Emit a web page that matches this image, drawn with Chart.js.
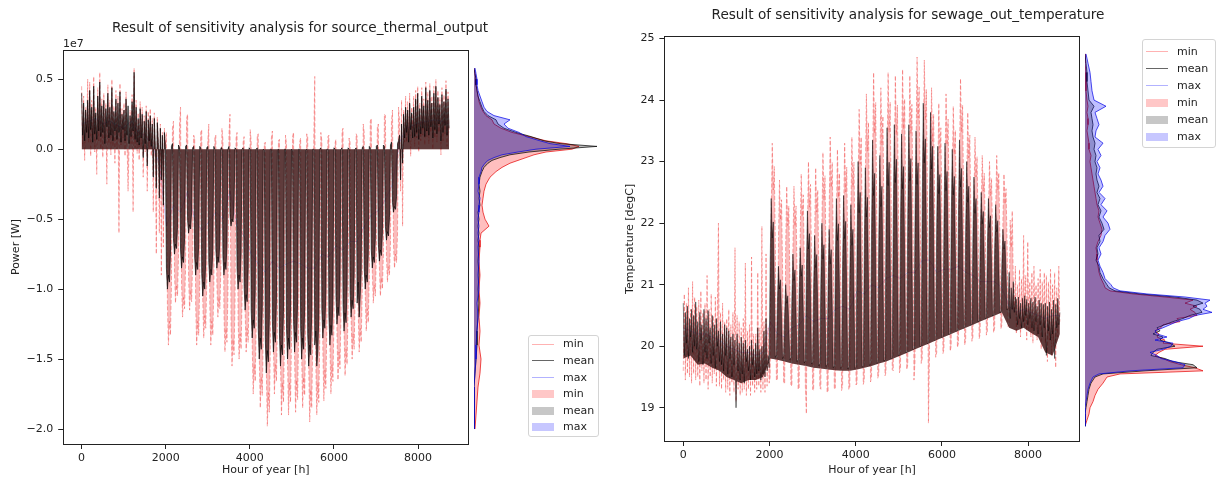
<!DOCTYPE html>
<html>
<head>
<meta charset="utf-8">
<script src="https://cdn.jsdelivr.net/npm/chart.js@4.4.1/dist/chart.umd.min.js"></script>
<style>
  body { margin: 0; background: #fff; }
  #fig { position: relative; width: 1219px; height: 477px; overflow: hidden; font-family: "DejaVu Sans", sans-serif; color: #222; }
  #fig canvas { position: absolute; top: 0; }
  .title { position: absolute; font-size: 13.6px; line-height: 1; white-space: nowrap; transform: translate(-50%, -50%); }
  .offset { position: absolute; font-size: 11px; line-height: 1; transform: translateY(-50%); }
  .legend { position: absolute; box-sizing: border-box; border: 1px solid #d4d4d4; border-radius: 3px; background: rgba(255,255,255,0.85); }
  .legend .handle { position: absolute; left: 3px; width: 22px; }
  .legend .label { position: absolute; left: 34px; font-size: 11px; line-height: 14px; }
</style>
</head>
<body>
<div id="fig">
  <canvas id="powerMain" width="470" height="477" style="left:0px"></canvas>
  <canvas id="powerHist" width="131" height="477" style="left:474px"></canvas>
  <canvas id="tempMain" width="481" height="477" style="left:600px"></canvas>
  <canvas id="tempHist" width="134" height="477" style="left:1085px"></canvas>
  <div class="title" style="left:300px;top:28px">Result of sensitivity analysis for source_thermal_output</div>
  <div class="title" style="left:908px;top:15px">Result of sensitivity analysis for sewage_out_temperature</div>
  <div class="offset" style="left:63px;top:43px">1e7</div>
  <div class="legend" id="powerLegend" style="left:528px;top:335px;width:71px;height:102px"></div>
  <div class="legend" id="tempLegend" style="left:1142px;top:39px;width:74px;height:109px"></div>
</div>
<script>
// sampling of the series
const hourStep = 24;   // one value per day
const weekStep = 168;  // one value per week

const hourTicks = [0, 2000, 4000, 6000, 8000];
const powerTicks = [-2.0, -1.5, -1.0, -0.5, 0.0, 0.5];
const tempTicks = [19, 20, 21, 22, 23, 24, 25];

// source_thermal_output, daily values in 1e7 W
const powerMean = [
  0.40, 0.10, 0.33, 0.06, 0.28, 0.12, 0.35,
  0.08, 0.42, 0.14, 0.30, 0.05, 0.45, 0.11,
  0.26, 0.07, 0.38, 0.13, 0.48, 0.09, 0.31,
  0.12, 0.35, 0.04, 0.29, 0.16, 0.40, 0.08,
  0.30, 0.10, 0.44, 0.06, 0.27, 0.13, 0.36,
  0.07, 0.33, 0.12, 0.41, 0.05, 0.25, 0.14,
  0.28, 0.06, 0.36, 0.10, 0.31, 0.04, 0.24,
  0.09, 0.34, 0.13, 0.55, 0.07, 0.30, 0.05,
  0.22, 0.03, 0.29, 0.08, 0.25, -0.06, 0.20,
  0.04, 0.27, -0.12, 0.21, 0.06, 0.24, 0.02,
  0.18, -0.20, 0.22, 0.03, -0.28, 0.19, 0.05,
  -0.35, 0.15, -0.22, 0.10, -0.40, 0.12, 0.02,
  -0.85, -1.00, -0.90, -0.95, -0.75, 0.02, 0.04,
  -0.64, -0.75, -0.68, -0.71, -0.56, 0.03, 0.01,
  -0.72, -0.85, -0.77, -0.81, -0.64, 0.02, 0.03,
  -0.51, -0.60, -0.54, -0.57, -0.45, 0.01, 0.02,
  -0.77, -0.90, -0.81, -0.86, -0.68, 0.02, 0.01,
  -0.89, -1.05, -0.95, -1.00, -0.79, 0.01, 0.02,
  -0.81, -0.95, -0.86, -0.90, -0.71, 0.02, 0.00,
  -0.72, -0.85, -0.77, -0.81, -0.64, 0.01, 0.01,
  -0.77, -0.90, -0.81, -0.86, -0.68, 0.00, 0.02,
  -0.47, -0.55, -0.50, -0.52, -0.41, 0.01, 0.00,
  -0.85, -1.00, -0.90, -0.95, -0.75, 0.00, 0.01,
  -0.98, -1.15, -1.04, -1.09, -0.86, 0.01, 0.00,
  -1.15, -1.35, -1.22, -1.28, -1.01, 0.00, 0.01,
  -1.28, -1.50, -1.35, -1.43, -1.13, 0.00, -0.01,
  -1.36, -1.60, -1.44, -1.52, -1.20, 0.00, 0.00,
  -1.23, -1.45, -1.31, -1.38, -1.09, -0.01, 0.00,
  -1.32, -1.55, -1.40, -1.47, -1.16, 0.00, 0.00,
  -1.28, -1.50, -1.35, -1.43, -1.13, 0.00, -0.01,
  -1.23, -1.45, -1.31, -1.38, -1.09, 0.00, 0.00,
  -1.28, -1.50, -1.35, -1.43, -1.13, -0.01, 0.00,
  -1.32, -1.55, -1.40, -1.47, -1.16, 0.00, 0.00,
  -1.40, -1.30, -1.55, -1.45, -1.20, 0.00, 0.01,
  -1.15, -1.35, -1.22, -1.28, -1.01, 0.00, 0.00,
  -1.19, -1.40, -1.26, -1.33, -1.05, 0.01, 0.00,
  -1.06, -1.25, -1.13, -1.19, -0.94, 0.00, 0.01,
  -1.11, -1.30, -1.17, -1.24, -0.98, 0.01, 0.00,
  -1.02, -1.20, -1.08, -1.14, -0.90, 0.00, 0.01,
  -1.10, -0.95, -1.20, -1.05, -0.88, 0.01, 0.02,
  -0.85, -1.00, -0.90, -0.95, -0.75, 0.02, 0.01,
  -0.72, -0.85, -0.77, -0.81, -0.64, 0.02, 0.03,
  -0.68, -0.80, -0.72, -0.76, -0.60, 0.03, 0.02,
  -0.55, -0.65, -0.59, -0.62, -0.49, 0.03, 0.05,
  -0.38, -0.45, -0.41, -0.43, -0.34, 0.04, 0.06,
  0.10, -0.22, 0.18, -0.10, 0.25, 0.08, 0.30,
  0.12, 0.28, 0.05, 0.33, 0.14, 0.26, 0.08,
  0.30, 0.09, 0.36, 0.12, 0.40, 0.07, 0.29,
  0.11, 0.38, 0.15, 0.31, 0.09, 0.44, 0.13,
  0.35, 0.10, 0.42, 0.16, 0.33, 0.08, 0.40,
  0.14, 0.45, 0.11, 0.37, 0.18, 0.32, 0.06,
  0.39, 0.12, 0.34, 0.17, 0.43, 0.10, 0.36,
  0.15
];

const powerMin = [
  0.45, 0.02, 0.38, -0.08, 0.30, 0.12, 0.50,
  0.05, 0.48, -0.05, 0.35, 0.10, 0.52, -0.02,
  0.30, -0.18, 0.44, 0.06, 0.55, 0.00, 0.36,
  -0.06, 0.40, 0.08, 0.33, -0.25, 0.46, 0.04,
  0.35, -0.04, 0.50, 0.02, 0.31, -0.10, 0.42,
  0.00, 0.38, -0.60, 0.47, 0.03, 0.29, 0.08,
  0.33, -0.05, 0.41, 0.06, -0.30, 0.02, 0.28,
  0.04, 0.39, -0.45, 0.58, 0.01, 0.35, -0.03,
  0.26, -0.08, 0.34, 0.02, 0.30, -0.20, 0.24,
  -0.02, 0.31, -0.30, 0.27, 0.00, 0.29, -0.05,
  0.22, -0.45, 0.26, -0.10, -0.75, 0.23, 0.02,
  -0.60, 0.18, -0.90, 0.12, -0.70, 0.15, 0.03,
  0.12, -1.12, -1.40, -1.23, -1.33, -0.98, 0.15,
  0.20, -0.88, -1.10, -0.97, -1.05, -0.77, 0.18,
  0.30, -0.96, -1.20, -1.06, -1.14, -0.84, 0.22,
  0.25, -0.92, -1.15, -1.01, -1.09, -0.81, 0.10,
  0.08, -1.12, -1.40, -1.23, -1.33, -0.98, 0.12,
  0.14, -1.08, -1.35, -1.19, -1.28, -0.95, 0.06,
  0.18, -1.12, -1.40, -1.23, -1.33, -0.98, 0.09,
  0.10, -0.96, -1.20, -1.06, -1.14, -0.84, 0.15,
  0.07, -1.16, -1.45, -1.28, -1.38, -1.02, 0.11,
  0.25, -1.24, -1.55, -1.36, -1.47, -1.09, 0.08,
  0.12, -1.20, -1.50, -1.32, -1.43, -1.05, 0.05,
  0.09, -1.16, -1.45, -1.28, -1.38, -1.02, 0.14,
  0.06, -1.40, -1.75, -1.54, -1.66, -1.23, 0.10,
  0.11, -1.48, -1.85, -1.63, -1.76, -1.30, 0.04,
  0.05, -1.58, -1.98, -1.74, -1.88, -1.39, 0.08,
  0.13, -1.40, -1.75, -1.54, -1.66, -1.23, 0.06,
  0.07, -1.52, -1.90, -1.67, -1.81, -1.33, 0.10,
  0.04, -1.52, -1.90, -1.67, -1.81, -1.33, 0.09,
  0.12, -1.50, -1.88, -1.65, -1.79, -1.32, 0.05,
  0.08, -1.48, -1.85, -1.63, -1.76, -1.30, 0.11,
  0.09, -1.56, -1.95, -1.72, -1.85, -1.37, 0.07,
  0.52, -1.52, -1.90, -1.67, -1.81, -1.33, 0.12,
  0.06, -1.44, -1.80, -1.58, -1.71, -1.26, 0.09,
  0.10, -1.40, -1.75, -1.54, -1.66, -1.23, 0.04,
  0.07, -1.32, -1.65, -1.45, -1.57, -1.16, 0.13,
  0.15, -1.30, -1.62, -1.43, -1.54, -1.13, 0.08,
  0.05, -1.20, -1.50, -1.32, -1.43, -1.05, 0.11,
  0.09, -1.16, -1.45, -1.28, -1.38, -1.02, 0.18,
  0.12, -1.04, -1.30, -1.14, -1.24, -0.91, 0.20,
  0.22, -0.88, -1.10, -0.97, -1.05, -0.77, 0.16,
  0.18, -0.84, -1.05, -0.92, -1.00, -0.74, 0.25,
  0.24, -0.76, -0.95, -0.84, -0.90, -0.67, 0.20,
  0.28, -0.68, -0.85, -0.75, -0.81, -0.60, 0.30,
  0.20, -0.30, 0.35, -0.55, 0.28, 0.05, 0.38,
  0.05, 0.34, 0.10, 0.40, -0.05, 0.30, 0.15,
  0.38, 0.02, 0.42, 0.08, 0.45, -0.02, 0.33,
  0.06, 0.44, 0.10, 0.36, 0.03, 0.48, 0.09,
  0.41, 0.04, 0.47, 0.12, 0.38, 0.00, 0.45,
  0.08, 0.50, 0.05, 0.42, 0.12, 0.37, -0.04,
  0.44, 0.06, 0.39, 0.11, 0.49, 0.02, 0.41,
  0.12
];

// weekly values, mostly hidden under the mean
const powerMaxWeekly = [
  0.18, 0.20, 0.22, 0.18, 0.20, 0.17, 0.15, 0.20, 0.12, 0.10, 0.02, -0.10,
  -0.55, -0.40, -0.45, -0.30, -0.50, -0.58, -0.52, -0.45, -0.50, -0.30,
  -0.55, -0.62, -0.75, -0.82, -0.88, -0.80, -0.85, -0.82, -0.80, -0.82,
  -0.85, -0.85, -0.75, -0.77, -0.69, -0.72, -0.66, -0.66, -0.55, -0.47,
  -0.44, -0.36, -0.25,
  0.05, 0.15, 0.17, 0.19, 0.20, 0.21, 0.20, 0.18
];

// sewage_out_temperature, daily values in degC
const tempMean = [
  20.70, 19.85, 20.55, 20.05, 20.65, 19.80, 20.45,
  20.15, 20.60, 19.90, 20.50, 20.00, 20.72, 19.95,
  20.40, 19.75, 20.55, 20.10, 20.35, 19.70, 20.60,
  19.90, 20.45, 19.80, 20.58, 20.05, 20.30, 19.72,
  20.50, 19.85, 20.35, 19.65, 20.45, 20.00, 20.25,
  19.75, 20.40, 19.70, 20.20, 19.60, 20.35, 19.85,
  20.30, 19.55, 20.25, 19.80, 20.15, 19.50, 20.20,
  19.70, 20.10, 19.00, 20.20, 19.60, 20.05, 19.45,
  20.15, 19.55, 20.05, 19.40, 20.10, 19.75, 19.95,
  19.60, 20.00, 19.45, 20.10, 19.70, 19.95, 19.50,
  20.05, 19.55, 20.30, 19.60, 19.95, 19.45, 20.00,
  19.55, 20.25, 19.50, 20.45, 19.60, 19.85, 19.65,
  21.38, 22.40, 21.76, 22.02, 21.00, 19.82, 19.86,
  20.71, 21.30, 20.93, 21.08, 20.49, 19.80, 19.84,
  20.52, 21.00, 20.70, 20.82, 20.34, 19.78, 19.81,
  20.81, 21.50, 21.07, 21.24, 20.55, 19.75, 19.78,
  20.86, 21.60, 21.14, 21.32, 20.58, 19.73, 19.76,
  21.21, 22.20, 21.58, 21.83, 20.84, 19.71, 19.74,
  20.96, 21.80, 21.28, 21.49, 20.65, 19.68, 19.72,
  21.08, 22.00, 21.42, 21.65, 20.73, 19.67, 19.70,
  21.01, 21.90, 21.34, 21.57, 20.67, 19.65, 19.68,
  21.30, 22.40, 21.72, 21.99, 20.89, 19.64, 19.67,
  21.33, 22.45, 21.75, 22.03, 20.91, 19.63, 19.66,
  21.24, 22.30, 21.64, 21.90, 20.84, 19.64, 19.66,
  21.67, 23.00, 22.17, 22.50, 21.17, 19.66, 19.68,
  21.62, 22.90, 22.10, 22.42, 21.14, 19.69, 19.71,
  21.90, 23.35, 22.45, 22.81, 21.36, 19.72, 19.74,
  21.77, 23.10, 22.27, 22.60, 21.27, 19.76, 19.78,
  22.05, 23.55, 22.61, 22.99, 21.49, 19.79, 19.81,
  22.10, 23.60, 22.66, 23.04, 21.54, 19.84, 19.86,
  22.03, 23.45, 22.56, 22.92, 21.50, 19.89, 19.91,
  22.14, 23.60, 22.69, 23.05, 21.59, 19.94, 19.96,
  22.10, 23.50, 22.63, 22.98, 21.58, 19.99, 20.01,
  22.39, 23.95, 22.98, 23.37, 21.81, 20.04, 20.06,
  22.32, 23.80, 22.88, 23.25, 21.77, 20.09, 20.11,
  22.01, 23.25, 22.48, 22.79, 21.55, 20.14, 20.16,
  22.06, 23.30, 22.53, 22.84, 21.60, 20.19, 20.21,
  22.02, 23.20, 22.46, 22.76, 21.58, 20.24, 20.26,
  22.13, 23.35, 22.59, 22.89, 21.67, 20.29, 20.31,
  21.94, 23.00, 22.34, 22.60, 21.54, 20.34, 20.36,
  21.81, 22.75, 22.16, 22.40, 21.46, 20.39, 20.42,
  21.68, 22.50, 21.99, 22.19, 21.37, 20.44, 20.47,
  21.64, 22.40, 21.93, 22.12, 21.36, 20.49, 20.52,
  21.60, 22.30, 21.86, 22.04, 21.34, 20.54, 20.57,
  21.38, 21.90, 21.58, 21.71, 21.19, 20.59, 20.62,
  21.20, 20.45, 20.95, 20.60, 21.05, 20.55, 20.80,
  20.75, 20.35, 20.80, 20.45, 20.70, 20.30, 20.78,
  20.40, 20.82, 20.50, 20.76, 20.35, 20.70, 20.45,
  20.78, 20.30, 20.72, 20.25, 20.80, 20.40, 20.65,
  20.20, 20.75, 20.35, 20.70, 20.15, 20.68, 20.30,
  20.70, 19.85, 20.65, 20.25, 20.72, 20.10, 20.60,
  20.20, 20.75, 19.80, 20.68, 20.30, 20.78, 20.35,
  20.55
];

const tempMin = [
  19.60, 20.85, 19.45, 20.70, 19.55, 20.95, 19.50,
  20.60, 19.40, 21.05, 19.55, 20.80, 19.45, 20.65,
  19.50, 20.75, 19.35, 20.90, 19.60, 20.55, 19.40,
  20.70, 19.45, 21.15, 19.30, 20.60, 19.50, 20.85,
  19.40, 20.50, 19.55, 20.80, 19.35, 20.65, 22.00,
  19.35, 20.55, 19.30, 20.70, 19.45, 20.40, 19.25,
  20.45, 19.30, 20.60, 19.20, 20.35, 19.40, 20.55,
  19.25, 21.60, 19.10, 20.50, 19.30, 20.40, 19.20,
  20.30, 19.25, 20.45, 19.30, 21.35, 19.20, 20.25,
  19.30, 20.35, 19.20, 21.45, 19.35, 20.20, 19.25,
  20.20, 19.30, 21.20, 19.35, 20.30, 19.25, 21.95,
  19.30, 20.40, 19.25, 21.50, 19.35, 20.30, 19.40,
  19.50, 22.16, 23.30, 22.54, 22.92, 21.59, 19.45,
  19.45, 21.73, 22.70, 22.05, 22.38, 21.24, 19.40,
  19.40, 21.64, 22.60, 21.96, 22.28, 21.16, 19.38,
  19.35, 21.63, 22.60, 21.95, 22.28, 21.14, 19.30,
  19.32, 21.77, 22.80, 22.11, 22.46, 21.25, 19.35,
  18.90, 21.89, 23.00, 22.26, 22.63, 21.34, 19.30,
  19.28, 21.82, 22.90, 22.18, 22.54, 21.28, 19.32,
  19.30, 22.00, 23.15, 22.38, 22.77, 21.42, 19.25,
  19.27, 22.17, 23.40, 22.58, 22.99, 21.56, 19.30,
  19.32, 22.04, 23.20, 22.42, 22.81, 21.45, 19.28,
  19.35, 22.12, 23.30, 22.51, 22.91, 21.52, 19.30,
  19.33, 22.19, 23.40, 22.59, 22.99, 21.58, 19.37,
  19.40, 22.52, 23.85, 22.96, 23.40, 21.85, 19.38,
  19.45, 22.71, 24.10, 23.17, 23.64, 22.01, 19.42,
  19.50, 22.97, 24.45, 23.46, 23.96, 22.22, 19.48,
  19.55, 22.81, 24.20, 23.27, 23.74, 22.11, 19.52,
  19.58, 23.00, 24.45, 23.48, 23.97, 22.27, 19.62,
  19.60, 22.96, 24.40, 23.44, 23.92, 22.24, 19.57,
  19.65, 23.05, 24.50, 23.53, 24.02, 22.32, 19.62,
  19.70, 22.99, 24.40, 23.46, 23.93, 22.29, 19.45,
  19.75, 23.22, 24.70, 23.71, 24.21, 22.47, 19.72,
  19.80, 23.20, 24.65, 23.68, 24.17, 22.47, 18.75,
  19.85, 22.90, 24.20, 23.33, 23.77, 22.24, 19.82,
  19.90, 22.74, 23.95, 23.14, 23.55, 22.13, 19.88,
  19.95, 22.86, 24.10, 23.27, 23.69, 22.23, 19.92,
  20.00, 22.73, 23.90, 23.12, 23.51, 22.15, 19.98,
  20.05, 23.06, 24.35, 23.49, 23.92, 22.42, 20.02,
  20.10, 22.69, 23.80, 23.06, 23.43, 22.14, 20.08,
  20.15, 22.43, 23.40, 22.75, 23.08, 21.94, 20.12,
  20.20, 22.23, 23.10, 22.52, 22.81, 21.80, 20.18,
  20.25, 22.18, 23.00, 22.45, 22.73, 21.76, 20.22,
  20.30, 22.26, 23.10, 22.54, 22.82, 21.84, 20.28,
  20.35, 22.07, 22.80, 22.31, 22.56, 21.70, 20.32,
  20.40, 22.05, 21.60, 22.20, 21.10, 20.60, 21.30,
  20.20, 21.00, 20.35, 21.25, 20.15, 21.10, 20.40,
  21.80, 20.30, 21.15, 20.10, 21.70, 20.25, 21.05,
  20.15, 21.20, 20.05, 21.30, 20.35, 21.00, 20.10,
  21.10, 20.20, 21.25, 19.95, 21.05, 20.30, 21.20,
  20.05, 21.15, 19.75, 21.05, 20.10, 21.25, 19.85,
  21.00, 20.00, 21.20, 19.65, 20.95, 20.15, 21.30,
  20.40
];

const tempMaxWeekly = [
  20.30, 20.25, 20.20, 20.20, 20.15, 20.10, 20.00, 19.95, 19.90, 19.90, 19.85, 19.90,
  20.40, 20.20, 20.15, 20.30, 20.35, 20.50, 20.40, 20.45, 20.45, 20.60,
  20.65, 20.60, 20.90, 20.85, 21.00, 20.95, 21.10, 21.15, 21.10, 21.20,
  21.20, 21.40, 21.40, 21.20, 21.25, 21.25, 21.30, 21.20, 21.15, 21.05,
  21.05, 21.05, 20.95,
  20.65, 20.55, 20.60, 20.55, 20.50, 20.45, 20.50, 20.50
];

// weekly lower edge of the mean band (the dark base line)
const tempMeanFloorWeekly = [
  19.80, 19.85, 19.70, 19.72, 19.65, 19.60, 19.50, 19.45, 19.40, 19.45, 19.45, 19.50,
  19.80, 19.78, 19.75, 19.72, 19.70, 19.68, 19.65, 19.64, 19.62, 19.61,
  19.60, 19.60, 19.62, 19.65, 19.68, 19.72, 19.75, 19.80, 19.85, 19.90,
  19.95, 20.00, 20.05, 20.10, 20.15, 20.20, 20.25, 20.30, 20.35, 20.40,
  20.45, 20.50, 20.55,
  20.30, 20.25, 20.30, 20.22, 20.15, 19.90, 19.85, 20.20
];

// side histograms: bin centres and heights (hours per bin, relative)
const powerBins = [0.58, 0.54, 0.50, 0.46, 0.42, 0.38, 0.34, 0.30, 0.27, 0.24, 0.21, 0.18, 0.15, 0.12, 0.09, 0.06,
  0.04, 0.02, 0.00, -0.02, -0.04, -0.06, -0.08, -0.10, -0.13, -0.16, -0.20, -0.25, -0.30, -0.35, -0.40, -0.45,
  -0.50, -0.55, -0.60, -0.65, -0.70, -0.80, -0.90, -1.00, -1.10, -1.20, -1.30, -1.40, -1.50, -1.60, -1.70,
  -1.80, -1.90, -2.00];
const powerHistMin = [0, 1, 2, 2, 3, 4, 5, 7, 9, 12, 18, 20, 27, 38, 55, 72, 92, 105, 98, 72, 60, 52, 44, 36,
  28, 22, 16, 12, 10, 9, 8, 9, 11, 15, 7, 6, 6, 5, 6, 5, 6, 5, 6, 5, 7, 6, 4, 3, 2, 1];
const powerHistMean = [0, 1, 2, 2, 3, 4, 6, 8, 10, 14, 22, 24, 30, 42, 57, 70, 86, 123, 85, 55, 36, 26, 18, 14,
  10, 8, 6, 5, 6, 5, 6, 4, 5, 4, 5, 4, 5, 4, 5, 4, 5, 4, 3, 3, 2, 1, 0, 0, 0, 0];
const powerHistMax = [1, 2, 3, 3, 4, 6, 8, 10, 13, 20, 36, 30, 34, 45, 52, 66, 76, 96, 62, 44, 28, 20, 14, 11,
  8, 7, 5, 5, 4, 6, 5, 5, 4, 5, 4, 5, 4, 5, 4, 5, 3, 4, 3, 2, 2, 1, 0, 0, 0, 0];

const tempBins = [24.75, 24.6, 24.45, 24.3, 24.15, 24.0, 23.9, 23.8, 23.7, 23.6, 23.5, 23.4, 23.3, 23.2, 23.1,
  23.0, 22.9, 22.8, 22.7, 22.6, 22.5, 22.4, 22.3, 22.2, 22.1, 22.0, 21.9, 21.8, 21.7, 21.6, 21.5, 21.4, 21.3,
  21.2, 21.1, 21.0, 20.95, 20.9, 20.85, 20.8, 20.75, 20.7, 20.65, 20.6, 20.55, 20.5, 20.45, 20.4, 20.35, 20.3,
  20.25, 20.2, 20.15, 20.1, 20.05, 20.0, 19.95, 19.9, 19.85, 19.8, 19.75, 19.7, 19.65, 19.6, 19.55, 19.5, 19.4,
  19.3, 19.2, 19.1, 19.0, 18.9, 18.8, 18.7];
const tempHistMin = [0, 0, 1, 1, 1, 2,
  3, 2, 3, 3, 2, 3, 4, 4, 6, 5,
  6, 7, 8, 9, 10, 11, 12, 14, 13, 15,
  17, 16, 13, 11, 12, 12, 13, 14, 16, 19,
  20, 25, 48, 80, 108, 100, 112, 105, 110, 112,
  92, 95, 78, 76, 70, 74, 72, 80, 78, 118,
  80, 74, 70, 78, 85, 96, 110, 118, 35, 22,
  18, 13, 10, 8, 5, 4, 2, 0];
const tempHistMean = [0, 1, 2, 2, 3, 4,
  9, 6, 7, 8, 7, 8, 10, 9, 11, 10,
  12, 11, 12, 14, 12, 15, 13, 16, 14, 17,
  19, 14, 15, 12, 13, 11, 14, 15, 18, 22,
  24, 30, 55, 90, 112, 118, 108, 115, 117, 105,
  98, 88, 80, 72, 75, 68, 78, 75, 85, 90,
  72, 68, 66, 80, 88, 108, 112, 60, 18, 10,
  6, 4, 3, 2, 1, 0, 0, 0];
const tempHistMax = [1, 3, 5, 6, 7, 9,
  21, 10, 12, 14, 11, 10, 18, 13, 16, 12,
  15, 13, 16, 18, 14, 20, 16, 22, 18, 23,
  25, 20, 18, 14, 16, 13, 15, 18, 20, 26,
  28, 35, 62, 100, 125, 120, 122, 118, 127, 110,
  104, 92, 85, 78, 70, 72, 82, 70, 88, 86,
  78, 65, 72, 76, 90, 100, 98, 45, 14, 8,
  5, 3, 2, 1, 0, 0, 0, 0];

// ---------- styling ----------
const ink = '#222';
const labelFont = { family: 'DejaVu Sans', size: 11 };
const hourRange = [-438, 9197];
const powerRange = [-2.107, 0.709];
const tempRange = [18.46, 25.03];

const colMin = { line: 'rgba(240,60,60,0.42)', fill: 'rgba(240,60,60,0.34)' };
const colMean = { line: 'rgba(0,0,0,0.8)', fill: 'rgba(30,5,5,0.7)' };
const colMax = { line: 'rgba(40,40,255,0.3)' };

const daily = vals => vals.map((v, i) => ({ x: i * hourStep, y: v }));
const weekly = vals => vals.map((v, i) => ({ x: i * weekStep, y: v }));

const frame = {
  id: 'frame',
  afterDatasetsDraw(chart) {
    const { ctx, chartArea: a } = chart;
    const x0 = Math.floor(a.left) + 0.5, x1 = Math.floor(a.right) + 0.5;
    const y0 = Math.floor(a.top) + 0.5, y1 = Math.floor(a.bottom) + 0.5;
    ctx.save();
    ctx.strokeStyle = ink;
    ctx.lineWidth = 1;
    ctx.strokeRect(x0, y0, x1 - x0, y1 - y0);
    ctx.restore();
  }
};

function timeAxis(height) {
  return {
    type: 'linear', min: hourRange[0], max: hourRange[1],
    afterBuildTicks: s => { s.ticks = hourTicks.map(v => ({ value: v })); },
    afterFit: s => { s.height = height; },
    ticks: { color: ink, font: labelFont, padding: 3, autoSkip: false, maxRotation: 0, callback: v => String(v) },
    grid: { drawOnChartArea: false, tickLength: 5, color: ink },
    border: { display: false },
    title: { display: true, text: 'Hour of year [h]', color: ink, font: labelFont, padding: 0 }
  };
}

function valueAxis(range, ticks, fmt, width, text, titlePad) {
  return {
    type: 'linear', min: range[0], max: range[1],
    afterBuildTicks: s => { s.ticks = ticks.map(v => ({ value: v })); },
    afterFit: s => { s.width = width; },
    ticks: { color: ink, font: labelFont, padding: 5, autoSkip: false, callback: fmt },
    grid: { drawOnChartArea: false, tickLength: 5, color: ink },
    border: { display: false },
    title: { display: true, text, color: ink, font: labelFont, padding: { top: titlePad, bottom: 0 } }
  };
}

function baseOptions(padding, scales) {
  return {
    responsive: false, animation: false, devicePixelRatio: 1, events: [],
    layout: { padding },
    plugins: { legend: { display: false }, tooltip: { enabled: false } },
    elements: { point: { radius: 0 }, line: { tension: 0 } },
    scales
  };
}

// ---------- left: source_thermal_output ----------
new Chart(document.getElementById('powerMain'), {
  type: 'line',
  data: {
    datasets: [
      { label: 'mean', data: daily(powerMean), borderColor: colMean.line, borderWidth: 0.8,
        backgroundColor: colMean.fill, fill: 'origin' },
      { label: 'min', data: daily(powerMin), borderColor: colMin.line, borderWidth: 1, borderDash: [4, 2],
        backgroundColor: colMin.fill, fill: 'origin' },
      { label: 'max', data: weekly(powerMaxWeekly), borderColor: colMax.line, borderWidth: 0.8, fill: false }
    ]
  },
  options: baseOptions({ top: 50, right: 1.6, bottom: 0, left: 0 }, {
    x: timeAxis(33),
    y: valueAxis(powerRange, powerTicks, v => v.toFixed(1).replace('-', '\u2212'), 63.2, 'Power [W]', 9.5)
  }),
  plugins: [frame]
});

// ---------- right: sewage_out_temperature ----------
new Chart(document.getElementById('tempMain'), {
  type: 'line',
  data: {
    datasets: [
      { label: 'mean', data: daily(tempMean), borderColor: colMean.line, borderWidth: 0.6,
        backgroundColor: colMean.fill, fill: 3 },
      { label: 'min', data: daily(tempMin), borderColor: colMin.line, borderWidth: 1, borderDash: [4, 2],
        backgroundColor: colMin.fill, fill: 3 },
      { label: 'max', data: weekly(tempMaxWeekly), borderColor: colMax.line, borderWidth: 0.8, fill: false },
      { label: 'mean floor', data: weekly(tempMeanFloorWeekly), borderWidth: 0, borderColor: 'rgba(0,0,0,0)', fill: false }
    ]
  },
  options: baseOptions({ top: 36.7, right: 1.3, bottom: 0, left: 0 }, {
    x: timeAxis(36),
    y: valueAxis(tempRange, tempTicks, v => String(v), 64.4, 'Temperature [degC]', 23.4)
  }),
  plugins: [frame]
});

// ---------- side histograms ----------
// first dataset is drawn on top, so blue (max) goes first and red (min) last
function histChart(id, bins, minCounts, meanCounts, maxCounts, range, countMax, padding) {
  const series = [
    { counts: maxCounts, line: 'rgba(0,0,230,0.7)', fill: 'rgba(0,0,255,0.25)' },
    { counts: meanCounts, line: 'rgba(0,0,0,0.7)', fill: 'rgba(0,0,0,0.25)' },
    { counts: minCounts, line: 'rgba(230,0,0,0.7)', fill: 'rgba(255,0,0,0.25)' }
  ];
  new Chart(document.getElementById(id), {
    type: 'line',
    data: {
      datasets: series.map(s => ({
        data: s.counts.map((c, i) => ({ x: c, y: bins[i] })),
        borderColor: s.line, backgroundColor: s.fill,
        borderWidth: 1, fill: 'origin'
      }))
    },
    options: Object.assign(baseOptions(padding, {
      x: { type: 'linear', min: 0, max: countMax, display: false },
      y: { type: 'linear', min: range[0], max: range[1], display: false }
    }), { indexAxis: 'y' })
  });
}

histChart('powerHist', powerBins, powerHistMin, powerHistMean, powerHistMax, powerRange, 131,
  { top: 50, bottom: 33, left: 0, right: 0 });
histChart('tempHist', tempBins, tempHistMin, tempHistMean, tempHistMax, tempRange, 134,
  { top: 36.7, bottom: 36, left: 0, right: 0 });

// ---------- legends ----------
const legendEntries = [
  { label: 'min', kind: 'line', color: 'rgba(255,0,0,0.3)' },
  { label: 'mean', kind: 'line', color: 'rgba(0,0,0,0.6)' },
  { label: 'max', kind: 'line', color: 'rgba(0,0,255,0.3)' },
  { label: 'min', kind: 'patch', color: 'rgba(255,0,0,0.22)' },
  { label: 'mean', kind: 'patch', color: 'rgba(0,0,0,0.22)' },
  { label: 'max', kind: 'patch', color: 'rgba(0,0,255,0.22)' }
];

function buildLegend(id, firstRow, rowStep) {
  const box = document.getElementById(id);
  legendEntries.forEach((e, i) => {
    const cy = firstRow + i * rowStep;
    const h = document.createElement('div');
    h.className = 'handle';
    const hh = e.kind === 'line' ? 1 : 8;
    h.style.top = (cy - hh / 2) + 'px';
    h.style.height = hh + 'px';
    h.style.background = e.color;
    box.appendChild(h);
    const t = document.createElement('span');
    t.className = 'label';
    t.textContent = e.label;
    t.style.top = (cy - 7) + 'px';
    box.appendChild(t);
  });
}

buildLegend('powerLegend', 8.3, 16.6);
buildLegend('tempLegend', 11.5, 17);
</script>
</body>
</html>
